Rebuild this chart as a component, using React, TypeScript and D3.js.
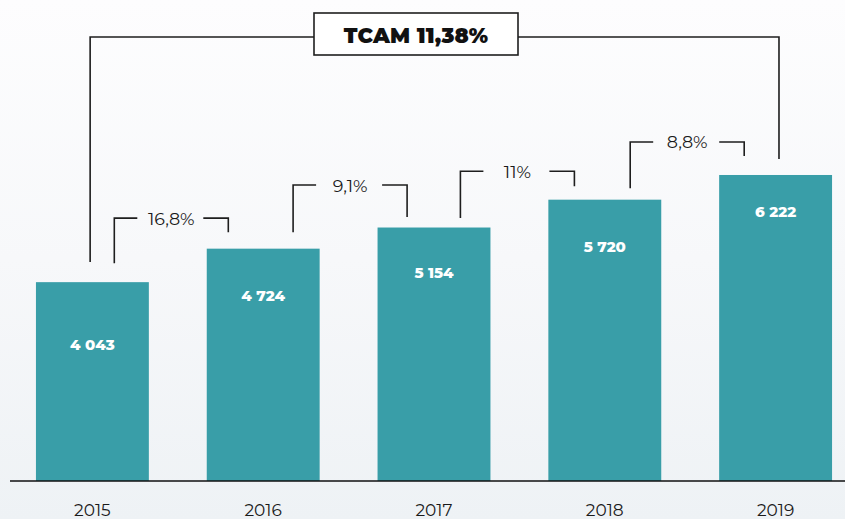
import React from "react";
import * as d3 from "d3";

const years = ["2015", "2016", "2017", "2018", "2019"];
const values = [4043, 4724, 5154, 5720, 6222];
const valueLabels = ["4 043", "4 724", "5 154", "5 720", "6 222"];
const growthLabels = ["16,8%", "9,1%", "11%", "8,8%"];
const cagrLabel = "TCAM 11,38%";

// layout constants (pixels)
const W = 845;
const H = 519;
const labelOffsets = [62, 47, 44.5, 47, 37];
const bracketTopGaps = [30.5, 42.5, 28.5, 33];
const leftLegGaps = [19, 16.5, 9.5, 11.5];
const rightLegGaps = [16.5, 10.5, 13.5, 19];
const bracketShift = [-6.5, 1.5, -2, -3];

export default function App() {
  const x = d3.scaleBand<string>().domain(years).range([7, 861]).paddingInner(0.339).paddingOuter(0.1695);
  const y = d3.scaleLinear().domain([0, 9780]).range([481, 0]);
  const bw = x.bandwidth();
  const stroke = "#1e1e1e";
  const sw = 1.6;

  const brackets = growthLabels.map((g, i) => {
    const gapCenter = (x(years[i])! + bw + x(years[i + 1])!) / 2 + bracketShift[i];
    const half = 57;
    const lx = gapCenter - half;
    const rx = gapCenter + half;
    const top = y(values[i + 1]) - bracketTopGaps[i];
    const lBottom = y(values[i]) - leftLegGaps[i];
    const rBottom = y(values[i + 1]) - rightLegGaps[i];
    return { g, lx, rx, top, lBottom, rBottom, cx: gapCenter };
  });

  const firstLeg = x(years[0])! + bw * 0.48;
  const lastLeg = x(years[4])! + bw * 0.53;
  const cagrTop = 37;
  const boxX0 = 314;
  const boxX1 = 518;

  return (
    <svg width={W} height={H} style={{ position: "absolute", left: 0, top: 0, display: "block" }}>
      <defs>
        <linearGradient id="bg" x1="0" y1="0" x2="0" y2="1">
          <stop offset="0" stopColor="#fdfdfe" />
          <stop offset="0.5" stopColor="#f7f8fa" />
          <stop offset="1" stopColor="#eef2f5" />
        </linearGradient>
      </defs>
      <rect x={0} y={0} width={W} height={H} fill="url(#bg)" />

      {years.map((yr, i) => (
        <g key={yr}>
          <rect x={x(yr)} y={y(values[i])} width={bw} height={y(0) - y(values[i])} fill="#399ea8" />
          <text
            x={x(yr)! + bw / 2}
            y={y(values[i]) + labelOffsets[i]}
            textAnchor="middle"
            dominantBaseline="central"
            fill="#ffffff"
            fontFamily="Montserrat, Inter, 'Open Sans', sans-serif"
            fontWeight={800}
            fontSize={15}
          >
            {valueLabels[i]}
          </text>
          <text
            x={x(yr)! + bw / 2}
            y={516}
            textAnchor="middle"
            fill="#1a1a1a"
            fontFamily="Montserrat, Inter, 'Open Sans', sans-serif"
            fontWeight={400}
            fontSize={17}
          >
            {yr}
          </text>
        </g>
      ))}

      <line x1={10} x2={W} y1={481} y2={481} stroke="#111" strokeWidth={1.5} />

      {brackets.map((b, i) => (
        <g key={i} fill="none" stroke={stroke} strokeWidth={sw}>
          <path d={`M${b.lx},${b.lBottom}V${b.top}H${b.cx - 34}`} />
          <path d={`M${b.cx + 32},${b.top}H${b.rx}V${b.rBottom}`} />
          <text
            x={b.cx}
            y={b.top}
            textAnchor="middle"
            dominantBaseline="central"
            stroke="none"
            fill="#1a1a1a"
            fontFamily="Montserrat, Inter, 'Open Sans', sans-serif"
            fontSize={17.5}
          >
            {b.g}
          </text>
        </g>
      ))}

      <g fill="none" stroke={stroke} strokeWidth={sw}>
        <path d={`M${firstLeg},${262}V${cagrTop}H${boxX0}`} />
        <path d={`M${boxX1},${cagrTop}H${lastLeg}V${159}`} />
        <rect x={boxX0} y={13} width={boxX1 - boxX0} height={42} fill="#ffffff" />
      </g>
      <text
        x={(boxX0 + boxX1) / 2}
        y={35}
        textAnchor="middle"
        dominantBaseline="central"
        fill="#111"
        fontFamily="Montserrat, Inter, 'Open Sans', sans-serif"
        fontWeight={900}
        fontSize={21}
        letterSpacing={0.2}
      >
        {cagrLabel}
      </text>
    </svg>
  );
}
